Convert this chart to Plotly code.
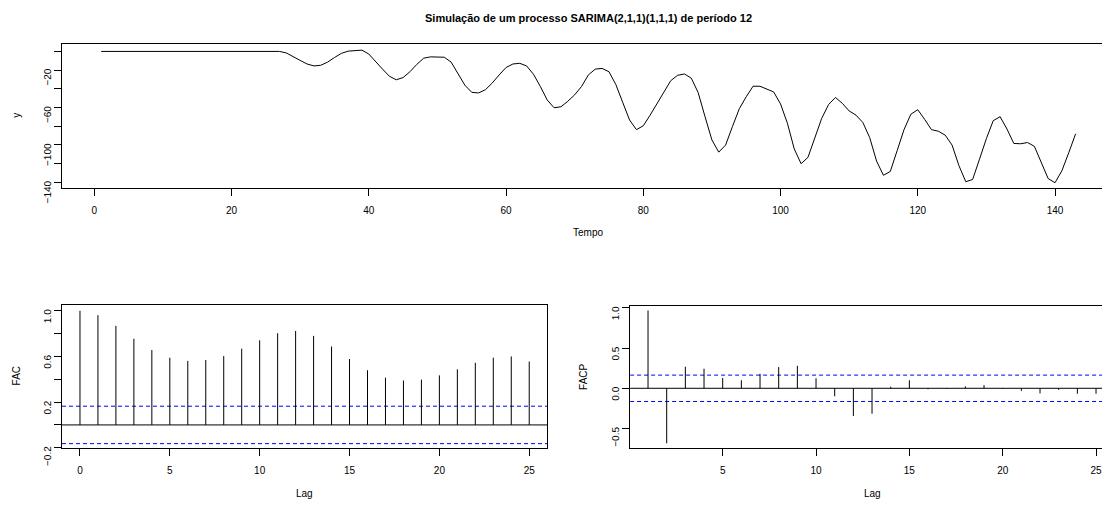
import numpy as np
import plotly.graph_objects as go

W, H = 1102, 516
FONT = "Liberation Sans, Arial, Helvetica, sans-serif"
MINUS = "\u2212"

# Simulated SARIMA(2,1,1)(1,1,1)_12 series, t = 1..143
tempo = list(range(1, 144))
y_serie = [0.0] * 26 + [
    0.0, -1.7, -5.2, -9.6, -13.4, -15.5, -14.8, -11.4, -6.5, -2.1,
    0.3, 1.0, 1.4, -2.8, -10.3, -18.9, -26.5, -30.3, -27.9, -21.7,
    -13.8, -7.2, -5.8, -5.8, -6.2, -11.4, -23.4, -36.1, -43.7, -44.4,
    -40.9, -33.7, -25.1, -17.2, -13.4, -12.7, -15.5, -24.4, -37.5, -51.9,
    -60.2, -59.2, -53.3, -46.4, -37.5, -25.1, -18.9, -18.2, -21.7, -35.4,
    -54.4, -73.3, -83.6, -79.5, -68.1, -56.1, -44.0, -31.3, -25.5, -24.1,
    -28.6, -44.0, -69.8, -94.6, -107.7, -100.1, -80.2, -61.2, -48.5, -37.2,
    -37.2, -39.9, -43.3, -56.1, -76.7, -104.2, -120.1, -113.2, -92.5, -71.6,
    -56.8, -49.2, -55.4, -63.6, -68.1, -76.0, -92.2, -117.3, -132.4, -128.3,
    -106.0, -83.6, -67.1, -62.3, -72.6, -83.6, -85.3, -89.5, -100.1, -122.1,
    -139.3, -136.9, -115.2, -93.2, -74.0, -69.8, -82.9, -98.4, -98.7, -97.4,
    -101.5, -118.7, -135.9, -140.4, -127.6, -108.4, -88.1,
]

# Sample autocorrelation (lags 0..25)
lag_fac = list(range(0, 26))
fac = [1.000, 0.961, 0.868, 0.755, 0.656, 0.589, 0.561, 0.569, 0.603, 0.668,
       0.741, 0.803, 0.823, 0.780, 0.687, 0.577, 0.479, 0.414, 0.389, 0.397,
       0.434, 0.487, 0.544, 0.589, 0.600, 0.555]

# Sample partial autocorrelation (lags 1..25)
lag_facp = list(range(1, 26))
facp = [0.968, -0.684, 0.268, 0.244, 0.128, 0.100, 0.180, 0.264, 0.280, 0.124,
        -0.100, -0.344, -0.316, 0.020, 0.100, -0.012, -0.008, 0.024, 0.040, -0.008,
        -0.032, -0.064, -0.020, -0.068, -0.068]

n_obs = len(y_serie)
ic = 1.96 / np.sqrt(n_obs)

# Axis tick values and labels
top_xticks = [0, 20, 40, 60, 80, 100, 120, 140]
top_yticks = [0, -20, -40, -60, -80, -100, -120, -140]
top_ylabels = ["", "-20", "", "-60", "", "-100", "", "-140"]
fac_xticks = [0, 5, 10, 15, 20, 25]
fac_yticks = [-0.2, 0.0, 0.2, 0.4, 0.6, 0.8, 1.0]
fac_ylabels = ["-0.2", "", "0.2", "", "0.6", "", "1.0"]
facp_xticks = [5, 10, 15, 20, 25]
facp_yticks = [-0.5, 0.0, 0.5, 1.0]
facp_ylabels = ["-0.5", "0.0", "0.5", "1.0"]

# Axis ranges
top_xrange, top_yrange = [-4.71, 146.85], [-145.5, 7.53]
fac_xrange, fac_yrange = [-1, 26], [-0.2063, 1.0532]
facp_xrange, facp_yrange = [0.04, 25.32], [-0.744, 1.028]


def fx(p):
    return p / W


def fy(p):
    return 1 - p / H


def stems(lags, vals):
    xs, ys = [], []
    for l, v in zip(lags, vals):
        xs += [l, l, None]
        ys += [0, v, None]
    return xs, ys


fig = go.Figure()

fig.add_trace(go.Scatter(x=tempo, y=y_serie, mode="lines",
                         line=dict(color="black", width=1),
                         xaxis="x", yaxis="y", showlegend=False, hoverinfo="skip"))

# Correlograms: zero line, confidence bounds and one stem per lag
for (lags, vals, xr, yr, xrng) in ((lag_fac, fac, "x2", "y2", fac_xrange),
                                   (lag_facp, facp, "x3", "y3", facp_xrange)):
    fig.add_trace(go.Scatter(x=xrng, y=[0, 0], mode="lines",
                             line=dict(color="black", width=1),
                             xaxis=xr, yaxis=yr, showlegend=False, hoverinfo="skip"))
    for b in (ic, -ic):
        fig.add_trace(go.Scatter(x=xrng, y=[b, b], mode="lines",
                                 line=dict(color="#0000FF", width=1, dash="4px,3px"),
                                 xaxis=xr, yaxis=yr, showlegend=False, hoverinfo="skip"))
    sx, sy = stems(lags, vals)
    fig.add_trace(go.Scatter(x=sx, y=sy, mode="lines", line=dict(color="black", width=1),
                             xaxis=xr, yaxis=yr, showlegend=False, hoverinfo="skip"))

tickfont = dict(family=FONT, size=10, color="black")
common_x = dict(showgrid=False, zeroline=False, showline=True, linecolor="black", linewidth=1,
                ticks="outside", ticklen=7, tickwidth=1, tickcolor="black",
                tickfont=tickfont, ticklabelstandoff=6, ticklabeloverflow="allow")
common_y = dict(showgrid=False, zeroline=False, showline=True, linecolor="black", linewidth=1,
                ticks="outside", ticklen=7, tickwidth=1, tickcolor="black",
                tickfont=tickfont, tickangle=-89.9, ticklabelstandoff=6,
                ticklabeloverflow="allow")


def mt(labels):
    return [s.replace("-", MINUS) for s in labels]


fig.update_layout(
    width=W, height=H,
    margin=dict(l=0, r=0, t=0, b=0),
    paper_bgcolor="white", plot_bgcolor="white",
    font=dict(family=FONT, size=10, color="black"),
    xaxis=dict(common_x, domain=[fx(62), 1.0], range=top_xrange, anchor="y",
               tickvals=top_xticks, mirror=True),
    yaxis=dict(common_y, domain=[fy(194.3), fy(46)], range=top_yrange, anchor="x",
               tickvals=top_yticks, ticktext=mt(top_ylabels), mirror=False),
    xaxis2=dict(common_x, domain=[fx(62), fx(547.2)], range=fac_xrange, anchor="y2",
                tickvals=fac_xticks, mirror=True),
    yaxis2=dict(common_y, domain=[fy(464.7), fy(315.7)], range=fac_yrange, anchor="x2",
                tickvals=fac_yticks, ticktext=mt(fac_ylabels), mirror=True),
    xaxis3=dict(common_x, domain=[fx(630.1), 1.0], range=facp_xrange, anchor="y3",
                tickvals=facp_xticks, mirror=True),
    yaxis3=dict(common_y, domain=[fy(464.3), fy(316.7)], range=facp_yrange, anchor="x3",
                tickvals=facp_yticks, ticktext=mt(facp_ylabels), mirror=False),
)


def label(text, x, y, angle=0, bold=False, size=10):
    fig.add_annotation(text=f"<b>{text}</b>" if bold else text,
                       x=fx(x), y=fy(y), xref="paper", yref="paper",
                       showarrow=False, textangle=angle, xanchor="center", yanchor="middle",
                       font=dict(family=FONT, size=size, color="black"))


label("Simulação de um processo SARIMA(2,1,1)(1,1,1) de período 12", 588, 19, bold=True, size=11)
label("Tempo", 588, 241)
label("y", 17, 120, angle=-90)
label("Lag", 304.5, 511)
label("FAC", 16, 390, angle=-90)
label("Lag", 872, 511)
label("FACP", 584, 390.5, angle=-90)

fig.write_html("out.html")
